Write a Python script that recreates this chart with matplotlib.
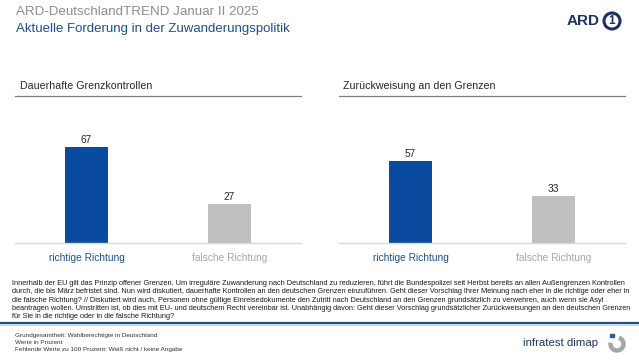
import matplotlib
matplotlib.use("Agg")
import matplotlib.pyplot as plt
from matplotlib.patches import Ellipse, Arc, Rectangle
from matplotlib.lines import Line2D

plt.rcParams['font.family'] = ['Liberation Sans', 'DejaVu Sans']

# ---- data ----
header = "ARD-DeutschlandTREND Januar II 2025"
subtitle = "Aktuelle Forderung in der Zuwanderungspolitik"
panel_titles = ["Dauerhafte Grenzkontrollen", "Zurückweisung an den Grenzen"]
categories = ["richtige Richtung", "falsche Richtung"]
values_grenzkontrollen = [67, 27]
values_zurueckweisung = [57, 33]
footnote_lines = [
    "Innerhalb der EU gilt das Prinzip offener Grenzen. Um irreguläre Zuwanderung nach Deutschland zu reduzieren, führt die Bundespolizei seit Herbst bereits an allen Außengrenzen Kontrollen",
    "durch, die bis März befristet sind. Nun wird diskutiert, dauerhafte Kontrollen an den deutschen Grenzen einzuführen. Geht dieser Vorschlag Ihrer Meinung nach eher in die richtige oder eher in",
    "die falsche Richtung? // Diskutiert wird auch, Personen ohne gültige Einreisedokumente den Zutritt nach Deutschland an den Grenzen grundsätzlich zu verwehren, auch wenn sie Asyl",
    "beantragen wollen. Umstritten ist, ob dies mit EU- und deutschem Recht vereinbar ist. Unabhängig davon: Geht dieser Vorschlag grundsätzlicher Zurückweisungen an den deutschen Grenzen",
    "für Sie in die richtige oder in die falsche Richtung?",
]
source_lines = [
    "Grundgesamtheit: Wahlberechtigte in Deutschland",
    "Werte in Prozent",
    "Fehlende Werte zu 100 Prozent: Weiß nicht / keine Angabe",
]

W, H = 639, 361
BLUE = "#0a4b9f"
GREY = "#bfbfbf"
NAVY = "#1c3260"

fig = plt.figure(figsize=(W / 100, H / 100), dpi=100)
fig.patch.set_facecolor("white")

def fx(x):
    return x / W

def fy(y):
    return 1 - y / H

# header
fig.text(fx(16), fy(12), header, fontsize=9.6, color="#8c8c8c", va="center", ha="left")
fig.text(fx(16), fy(29), subtitle, fontsize=9.5, color="#1f4e8c", va="center", ha="left")

# ARD logo
fig.text(fx(600), fy(21), "ARD", fontsize=11, fontweight="bold", color=NAVY, va="center", ha="right")
fig.add_artist(Ellipse((fx(612), fy(21)), 16 / W, 16 / H, transform=fig.transFigure,
                       fill=False, lw=2.2, edgecolor=NAVY))
fig.text(fx(612), fy(21), "1", fontsize=8.5, fontweight="bold", color=NAVY, va="center", ha="center")

panels = [(15, 301, values_grenzkontrollen, panel_titles[0], 20),
          (339, 625, values_zurueckweisung, panel_titles[1], 343)]
base_y = 243
top_y = base_y - 143.3
for (x0, x1, vals, title, tx) in panels:
    ax = fig.add_axes([fx(x0), fy(base_y), (x1 - x0) / W, (base_y - top_y) / H])
    ax.set_xlim(-0.5, 1.5)
    ax.set_ylim(0, 100)
    ax.bar([0, 1], vals, width=0.30, color=[BLUE, GREY], zorder=2)
    for i, v in enumerate(vals):
        ax.annotate(str(v), (i, v), xytext=(0, 7), textcoords="offset pixels",
                    ha="center", va="center", fontsize=7.3, color="#262626")
    for s in ["top", "right", "left"]:
        ax.spines[s].set_visible(False)
    ax.spines["bottom"].set_color("#d9d9d9")
    ax.spines["bottom"].set_linewidth(1.0)
    ax.set_yticks([])
    ax.set_xticks([0, 1])
    ax.set_xticklabels(categories, fontsize=7.3)
    ax.tick_params(axis="x", length=0, pad=7)
    for lbl, c in zip(ax.get_xticklabels(), ["#1f4e8c", "#a6a6a6"]):
        lbl.set_color(c)
    ax.patch.set_alpha(0)
    # panel title and rule
    fig.text(fx(tx), fy(86), title, fontsize=7.7, color="#262626", va="center", ha="left")
    fig.add_artist(Line2D([fx(x0), fx(x1)], [fy(96), fy(96)], color="#7f7f7f", lw=0.9))

# footnote
for i, line in enumerate(footnote_lines):
    fig.text(fx(12), fy(283.3 + i * 8.35), line, fontsize=5.3, color="#1a1a1a", va="center", ha="left")

# separator
fig.add_artist(Line2D([0, 1], [fy(323), fy(323)], color="#1f4e8c", lw=1.6))
fig.add_artist(Line2D([0, 1], [fy(325), fy(325)], color="#c9d3e3", lw=1.2))

for i, line in enumerate(source_lines):
    fig.text(fx(15), fy(335.7 + i * 6.7), line, fontsize=4.6, color="#333333", va="center", ha="left")

# infratest dimap logo
fig.text(fx(598), fy(343), "infratest dimap", fontsize=8.2, color=NAVY, va="center", ha="right")
fig.add_artist(Arc((fx(617), fy(344)), 13 / W, 13 / H, theta1=-200, theta2=80,
                   transform=fig.transFigure, lw=3.2, color="#a6a6a6"))
fig.add_artist(Rectangle((fx(610), fy(337)), 3.5 / W, 3.5 / H, transform=fig.transFigure,
                         color="#2e5aa8"))

fig.savefig("out.png", dpi=100)
